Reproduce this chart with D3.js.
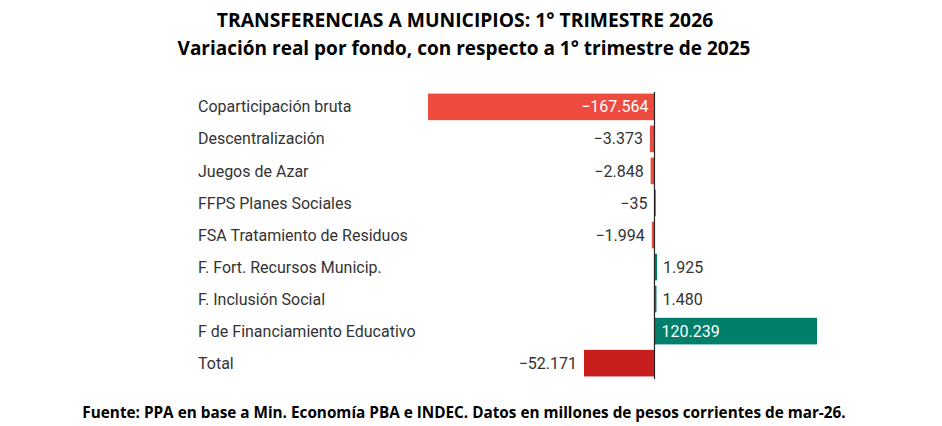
<!DOCTYPE html>
<html>
<head>
<meta charset="utf-8">
<script src="https://cdn.jsdelivr.net/npm/d3@7"></script>
<style>
  body { margin: 0; background: #fff; }
  svg { display: block; }
</style>
</head>
<body>
<div id="chart"></div>
<script>
// fondos y variación real (millones de pesos de mar-26)
var fondos = ["Coparticipación bruta", "Descentralización", "Juegos de Azar", "FFPS Planes Sociales",
              "FSA Tratamiento de Residuos", "F. Fort. Recursos Municip.", "F. Inclusión Social",
              "F de Financiamiento Educativo", "Total"];
var variacion = [-167564, -3373, -2848, -35, -1994, 1925, 1480, 120239, -52171];
var esTotal = [false, false, false, false, false, false, false, false, true];

var titulo    = "TRANSFERENCIAS A MUNICIPIOS: 1° TRIMESTRE 2026";
var subtitulo = "Variación real por fondo, con respecto a 1° trimestre de 2025";
var fuente    = "Fuente: PPA en base a Min. Economía PBA e INDEC. Datos en millones de pesos corrientes de mar-26.";

var width = 942, height = 426;

var svg = d3.select("#chart").append("svg").attr("width", width).attr("height", height);

var locale = d3.formatLocale({decimal: ",", thousands: ".", grouping: [3], currency: ["$", ""], minus: "\u2212"});
var fmt = locale.format(",.0f");

var data = fondos.map(function(f, i) { return {fondo: f, valor: variacion[i], total: esTotal[i]}; });

var x = d3.scaleLinear().domain([d3.min(variacion), d3.max(variacion)]).range([428, 817]);
var y = d3.scaleBand().domain(fondos).range([91, 379]).paddingInner(0.17).paddingOuter(0.08);

function color(d) {
    if (d.valor >= 0) return "#00806b";
    return d.total ? "#c81e1e" : "#ee4b3f";
}

// titulos
svg.append("text").attr("x", 465).attr("y", 27).attr("text-anchor", "middle")
   .style("font-family", "Open Sans").style("font-weight", "bold").style("font-size", "19.3px")
   .style("fill", "#000").text(titulo);
svg.append("text").attr("x", 464).attr("y", 55).attr("text-anchor", "middle")
   .style("font-family", "Open Sans").style("font-weight", "bold").style("font-size", "19px")
   .style("fill", "#000").text(subtitulo);

// barras
var filas = svg.append("g").selectAll("g").data(data).enter().append("g");

filas.append("rect")
    .attr("x", function(d) { return x(Math.min(0, d.valor)); })
    .attr("y", function(d) { return y(d.fondo); })
    .attr("width", function(d) { return Math.max(1.5, Math.abs(x(d.valor) - x(0))); })
    .attr("height", y.bandwidth())
    .style("fill", color);

// nombres de fondos
filas.append("text")
    .attr("x", 198)
    .attr("y", function(d) { return y(d.fondo) + y.bandwidth() / 2; })
    .attr("dy", "0.35em")
    .style("font-family", "Roboto").style("font-size", "16px").style("fill", "#333")
    .text(function(d) { return d.fondo; });

// etiquetas de valor
filas.append("text")
    .attr("x", function(d) {
        var w = Math.abs(x(d.valor) - x(0));
        if (d.valor < 0) return w > 100 ? x(0) - 6 : x(d.valor) - 7;
        return w > 100 ? x(0) + 7 : x(d.valor) + 6;
    })
    .attr("y", function(d) { return y(d.fondo) + y.bandwidth() / 2; })
    .attr("dy", "0.35em")
    .attr("text-anchor", function(d) { return d.valor < 0 ? "end" : "start"; })
    .style("font-family", "Roboto").style("font-size", "16px")
    .style("fill", function(d) { return Math.abs(x(d.valor) - x(0)) > 100 ? "#fff" : "#333"; })
    .text(function(d) { return fmt(d.valor); });

// linea de cero
svg.append("line").attr("x1", x(0)).attr("x2", x(0)).attr("y1", 92).attr("y2", 379)
   .attr("stroke", "#222").attr("stroke-width", 1.2);

// fuente
svg.append("text").attr("x", 464).attr("y", 418).attr("text-anchor", "middle")
   .style("font-family", "Open Sans").style("font-weight", "bold").style("font-size", "15.3px")
   .style("fill", "#000").text(fuente);
</script>
</body>
</html>
